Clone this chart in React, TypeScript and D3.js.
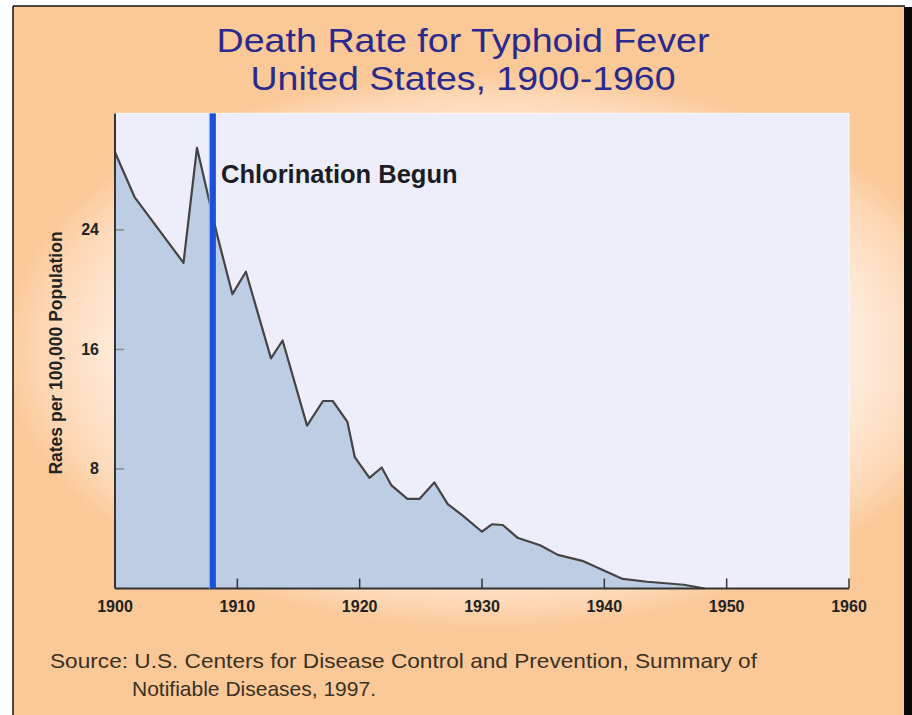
import React from "react";
import * as d3 from "d3";

const years = [1900.0, 1901.6, 1905.6, 1906.7, 1908.4, 1909.6, 1910.7, 1912.75, 1913.7, 1915.7, 1917.0, 1917.8, 1919.0, 1919.6, 1920.8, 1921.8, 1922.6, 1923.9, 1924.9, 1926.1, 1927.2, 1928.4, 1930.0, 1930.8, 1931.7, 1932.9, 1934.75, 1936.2, 1938.2, 1941.5, 1943.5, 1946.5, 1948.2];
const rates = [29.2, 26.2, 21.8, 29.5, 23.5, 19.7, 21.2, 15.4, 16.6, 10.9, 12.55, 12.55, 11.15, 8.8, 7.4, 8.1, 6.9, 6.0, 6.0, 7.1, 5.65, 4.9, 3.8, 4.3, 4.25, 3.4, 2.9, 2.25, 1.85, 0.64, 0.45, 0.25, 0.0];
const xTicks = [1900, 1910, 1920, 1930, 1940, 1950, 1960];
const yTicks = [8, 16, 24];
const chlorinationYear = 1908;
const titleLines = ["Death Rate for Typhoid Fever", "United States, 1900-1960"];
const titleWidths = [493, 425];
const sourceLines = ["Source: U.S. Centers for Disease Control and Prevention, Summary of", "Notifiable Diseases, 1997."];

const W = 912, H = 715;
const FONT = "'Liberation Sans', Arial, sans-serif";

export default function App() {
  const x = d3.scaleLinear().domain([1900, 1960]).range([115, 849]);
  const y = d3.scaleLinear().domain([0, 32]).range([588.5, 110.4]);
  const yTop = 31.8;
  const pts = years.map((yr, i) => [yr, rates[i]] as [number, number]);
  const area = d3.area<[number, number]>().x(d => x(d[0])).y0(y(0)).y1(d => y(d[1]))(pts) || "";
  const line = d3.line<[number, number]>().x(d => x(d[0])).y(d => y(d[1]))(pts) || "";
  const left = x(1900), right = x(1960), bottom = y(0), top = y(yTop);

  return (
    <svg width={W} height={H} style={{ position: "absolute", left: 0, top: 0, background: "#fff" }}>
      <defs>
        <radialGradient id="bg" gradientUnits="userSpaceOnUse" cx={490} cy={350} r={280}
          gradientTransform="translate(490,350) scale(1.75,1) translate(-490,-350)">
          <stop offset="0" stopColor="#fff4ec" />
          <stop offset="0.75" stopColor="#feebdc" />
          <stop offset="0.92" stopColor="#fdd6b2" />
          <stop offset="1" stopColor="#fbc897" />
        </radialGradient>
      </defs>
      <rect x={0} y={0} width={W} height={H} fill="#fff" />
      <rect x={13} y={6} width={891} height={H - 6} fill="#fbc897" />
      <rect x={13} y={6} width={891} height={H - 6} fill="url(#bg)" />
      <line x1={13} y1={6} x2={905} y2={6} stroke="#1a1010" strokeWidth={1.5} />
      <line x1={13} y1={6} x2={13} y2={H} stroke="#1a1010" strokeWidth={1.5} />
      <rect x={904} y={7} width={8} height={H - 7} fill="#0a0a0a" />

      {titleLines.map((t, i) => (
        <text key={i} x={463 - titleWidths[i] / 2} y={52 + i * 38} fontFamily={FONT} fontSize={34} fill="#2a2a8c"
          textLength={titleWidths[i]} lengthAdjust="spacingAndGlyphs">{t}</text>
      ))}

      <rect x={left} y={top} width={right - left} height={bottom - top} fill="#eeeefa" stroke="#f8f8ff" strokeWidth={1} />
      <path d={area} fill="#bdcde3" />
      <path d={line} fill="none" stroke="#444" strokeWidth={2.2} strokeLinejoin="round" />

      {yTicks.map(t => (
        <g key={t}>
          <line x1={left} x2={left + 9} y1={y(t)} y2={y(t)} stroke="#888" strokeWidth={1.5} />
          <text x={left - 16} y={y(t) + 5.5} textAnchor="end" fontFamily={FONT} fontWeight="bold" fontSize={16} fill="#222">{t}</text>
        </g>
      ))}
      {xTicks.map(t => (
        <g key={t}>
          {t > 1900 && <line x1={x(t)} x2={x(t)} y1={bottom} y2={bottom - 10} stroke="#333" strokeWidth={1.5} />}
          <text x={x(t)} y={bottom + 23} textAnchor="middle" fontFamily={FONT} fontWeight="bold" fontSize={16} fill="#222">{t}</text>
        </g>
      ))}
      <line x1={left} x2={left} y1={top} y2={bottom} stroke="#333" strokeWidth={2} />
      <line x1={left} x2={right} y1={bottom} y2={bottom} stroke="#333" strokeWidth={2} />

      <rect x={x(chlorinationYear) - 3} y={top} width={6} height={bottom - top} fill="#1a4fd8" />
      <line x1={x(chlorinationYear) - 3.5} x2={x(chlorinationYear) - 3.5} y1={top} y2={bottom} stroke="#7fa6f0" strokeWidth={1} />
      <text x={221} y={183} fontFamily={FONT} fontWeight="bold" fontSize={25.5} fill="#1c1c24">Chlorination Begun</text>

      <text transform={`translate(62,353) rotate(-90)`} textAnchor="middle" fontFamily={FONT} fontWeight="bold" fontSize={17.5} fill="#222">Rates per 100,000 Population</text>

      <text x={50} y={668} fontFamily={FONT} fontSize={21} fill="#3a3024" textLength={707} lengthAdjust="spacingAndGlyphs">{sourceLines[0]}</text>
      <text x={132} y={696} fontFamily={FONT} fontSize={21} fill="#3a3024">{sourceLines[1]}</text>
    </svg>
  );
}
